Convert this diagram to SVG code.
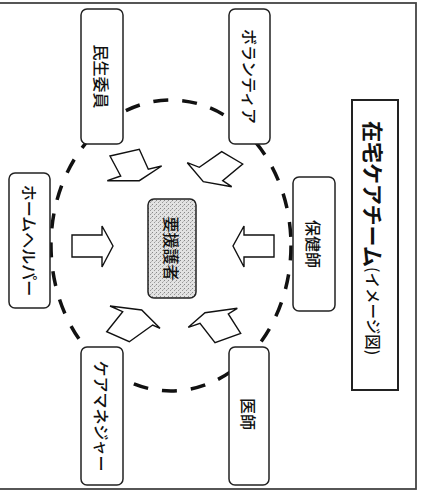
<svg xmlns="http://www.w3.org/2000/svg" width="428" height="494" viewBox="0 0 428 494">
<style>
.node{fill:#fff;stroke:#222;stroke-width:1.5}
.lbl{font-family:"Noto Sans CJK JP","Noto Sans",sans-serif;font-size:16px;font-weight:500;fill:#111;text-anchor:middle;dominant-baseline:central}
.arr{fill:#fff;stroke:#111;stroke-width:1.4;stroke-linejoin:miter}
.ring{fill:none;stroke:#111;stroke-width:3.5;stroke-dasharray:15 14}
</style>
<defs>
<pattern id="stip" width="4" height="4" patternUnits="userSpaceOnUse">
<rect width="4" height="4" fill="#e2e2e2"/>
<rect x="0" y="0" width="1" height="1" fill="#888"/>
<rect x="2" y="2" width="1" height="1" fill="#999"/>
<rect x="3" y="1" width="1" height="1" fill="#bbb"/>
</pattern>
</defs>
<rect x="-5" y="3" width="421" height="486" fill="#fff" stroke="#444" stroke-width="1.8"/>
<g id="connectors">
<ellipse class="ring" cx="171" cy="245.5" rx="120" ry="145.5"/>
<path class="arr" d="M110,156 L139.3,149.3 L148.3,169.3 L161.7,166 L139.3,180.7 L107.3,180.7 L120.7,176 Z"/>
<path class="arr" d="M187.3,162.7 L199.3,167.3 L221.7,151.7 L242.7,164 L222.7,180.7 L231.7,186.7 L203.3,181.7 Z"/>
<path class="arr" d="M110,306 L141.7,310 L160,328.3 L152.7,325 L129.3,341.7 L106.7,331.7 L122.7,311.7 Z"/>
<path class="arr" d="M188.3,327.3 L205,312.7 L237.3,308.3 L228.3,314 L240.7,333.3 L215,342.7 L200,323.3 Z"/>
<path class="arr" d="M72,235 L102,235 L102,226 L113,246 L102,267 L102,257 L72,257 Z"/>
<path class="arr" d="M274,235 L244,235 L244,226 L233,246 L244,267 L244,257 L274,257 Z"/>
</g>
<g id="title">
<rect x="352" y="100" width="46" height="290" fill="#fff" stroke="#222" stroke-width="2"/>
<text transform="translate(374,121) rotate(90)" font-family="'Noto Sans CJK JP',sans-serif" font-weight="bold" fill="#111" dominant-baseline="central"><tspan font-size="21">在宅ケアチーム</tspan><tspan font-size="15.5" font-weight="500">(イメージ図)</tspan></text>
</g>
<g id="minsei">
<rect class="node" x="81" y="9" width="42" height="135" rx="6"/>
<text class="lbl" transform="translate(102,76.5) rotate(90)">民生委員</text>
</g>
<g id="volunteer">
<rect class="node" x="229" y="9" width="41" height="135" rx="6"/>
<text class="lbl" transform="translate(249.5,76.5) rotate(90)">ボランティア</text>
</g>
<g id="hokenshi">
<rect class="node" x="293" y="177" width="42" height="134" rx="6"/>
<text class="lbl" transform="translate(314,244) rotate(90)">保健師</text>
</g>
<g id="homehelper">
<rect class="node" x="9" y="173" width="41" height="135" rx="6"/>
<text class="lbl" transform="translate(29.5,240.5) rotate(90)">ホームヘルパー</text>
</g>
<g id="caremanager">
<rect class="node" x="81" y="347" width="42" height="138" rx="6"/>
<text class="lbl" transform="translate(102,416) rotate(90)">ケアマネジャー</text>
</g>
<g id="ishi">
<rect class="node" x="229" y="347" width="40" height="138" rx="6"/>
<text class="lbl" transform="translate(249,414) rotate(90)">医師</text>
</g>
<g id="center">
<rect x="148" y="199" width="48" height="99" rx="6" fill="url(#stip)" stroke="#222" stroke-width="1.5"/>
<text class="lbl" transform="translate(172,248.5) rotate(90)" font-weight="bold">要援護者</text>
</g>
</svg>
